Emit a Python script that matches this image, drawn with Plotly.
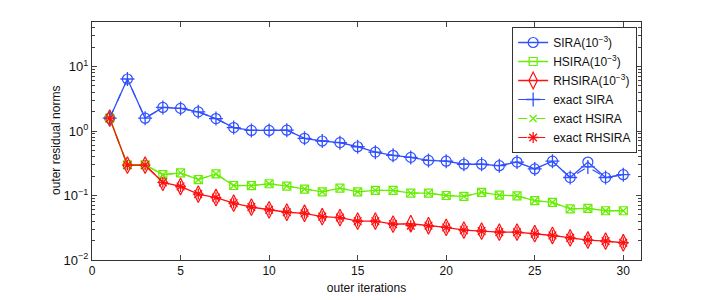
import plotly.graph_objects as go

iters = list(range(1, 31))

sira = [1.58, 6.4, 1.58, 2.32, 2.24, 1.98, 1.56, 1.13, 1.02, 1.02, 1.03,
        0.77, 0.70, 0.66, 0.57, 0.47, 0.42, 0.39, 0.35, 0.34, 0.305,
        0.305, 0.29, 0.33, 0.258, 0.34, 0.19, 0.33, 0.19, 0.21]
hsira = [1.58, 0.30, 0.30, 0.21, 0.224, 0.176, 0.216, 0.143, 0.142, 0.152, 0.140,
         0.126, 0.114, 0.130, 0.114, 0.120, 0.120, 0.109, 0.109, 0.100, 0.097,
         0.112, 0.101, 0.099, 0.083, 0.078, 0.062, 0.063, 0.058, 0.058]
rhsira = [1.58, 0.295, 0.295, 0.160, 0.138, 0.105, 0.093, 0.076, 0.066, 0.060, 0.055,
          0.053, 0.047, 0.0455, 0.040, 0.040, 0.036, 0.0365, 0.034, 0.032, 0.029,
          0.028, 0.027, 0.027, 0.0256, 0.024, 0.022, 0.0204, 0.0196, 0.0185]
exact_sira = sira[:27] + [0.277] + sira[28:]
exact_hsira = list(hsira)
exact_rhsira = rhsira[:17] + [0.034] + rhsira[18:]

x_ticks = [0, 5, 10, 15, 20, 25, 30]
y_ticks = [0.01, 0.1, 1, 10]
y_tick_labels = ["10<sup>−2</sup>", "10<sup>−1</sup>", "10<sup>0</sup>", "10<sup>1</sup>"]
y_minor = [m * d for d in [0.01, 0.1, 1, 10] for m in range(2, 10)]

BLUE = "#3050ff"
GREEN = "#66ee00"
RED = "#ff1010"
FONT = "Liberation Sans Narrow, Liberation Sans, Arial, sans-serif"

fig = go.Figure()
fig.add_trace(go.Scatter(x=iters, y=sira, mode="lines+markers",
                         name="SIRA(10<sup>−3</sup>)",
                         line=dict(color=BLUE, width=1.3),
                         marker=dict(symbol="circle-open", size=10, color=BLUE, line=dict(width=1.2))))
fig.add_trace(go.Scatter(x=iters, y=hsira, mode="lines+markers",
                         name="HSIRA(10<sup>−3</sup>)",
                         line=dict(color=GREEN, width=1.3),
                         marker=dict(symbol="square-open", size=8, color=GREEN, line=dict(width=1.2))))
fig.add_trace(go.Scatter(x=iters, y=rhsira, mode="lines+markers",
                         name="RHSIRA(10<sup>−3</sup>)",
                         line=dict(color=RED, width=1.3),
                         marker=dict(symbol="diamond-tall-open", size=12, color=RED, line=dict(width=1.2))))
fig.add_trace(go.Scatter(x=iters, y=exact_sira, mode="lines+markers",
                         name="exact SIRA",
                         line=dict(color=BLUE, width=1.2, dash="dash"),
                         marker=dict(symbol="cross-thin-open", size=10, color=BLUE, line=dict(width=1.3, color=BLUE))))
fig.add_trace(go.Scatter(x=iters, y=exact_hsira, mode="lines+markers",
                         name="exact HSIRA",
                         line=dict(color=GREEN, width=1.2, dash="dash"),
                         marker=dict(symbol="x-thin-open", size=7, color=GREEN, line=dict(width=1.3, color=GREEN))))
fig.add_trace(go.Scatter(x=iters, y=exact_rhsira, mode="lines+markers",
                         name="exact RHSIRA",
                         line=dict(color=RED, width=1.2, dash="dash"),
                         marker=dict(symbol="asterisk-open", size=9, color=RED, line=dict(width=1.3, color=RED))))

fig.update_layout(
    width=708, height=300,
    margin=dict(l=84, r=75, t=14, b=48),
    paper_bgcolor="white", plot_bgcolor="white",
    font=dict(family=FONT, size=12, color="#111"),
    legend=dict(x=0.993, y=0.979, xanchor="right", yanchor="top",
                bgcolor="white", bordercolor="#333", borderwidth=1,
                font=dict(size=12), tracegroupgap=0, itemwidth=30),
    showlegend=True,
    annotations=[dict(text="outer residual norms", xref="paper", yref="paper",
                      x=0, y=0.5, xshift=-36, textangle=-90, showarrow=False,
                      font=dict(size=12), xanchor="center", yanchor="middle")],
)
fig.update_xaxes(range=[0, 31], tickvals=x_ticks, ticks="inside", ticklen=5,
                 showline=True, linecolor="#333", linewidth=1, mirror="ticks",
                 showgrid=False, zeroline=False, automargin=False,
                 tickfont=dict(size=12),
                 title=dict(text="outer iterations", font=dict(size=12), standoff=6))
fig.update_yaxes(type="log", range=[-2, 1.69], tickvals=y_ticks, ticktext=y_tick_labels,
                 ticks="inside", ticklen=5, ticklabelstandoff=0,
                 tickfont=dict(size=13),
                 minor=dict(ticks="inside", ticklen=3, tickvals=y_minor, showgrid=False),
                 showline=True, linecolor="#333", linewidth=1, mirror="ticks",
                 showgrid=False, zeroline=False, automargin=False)

fig.write_html("out.html")
